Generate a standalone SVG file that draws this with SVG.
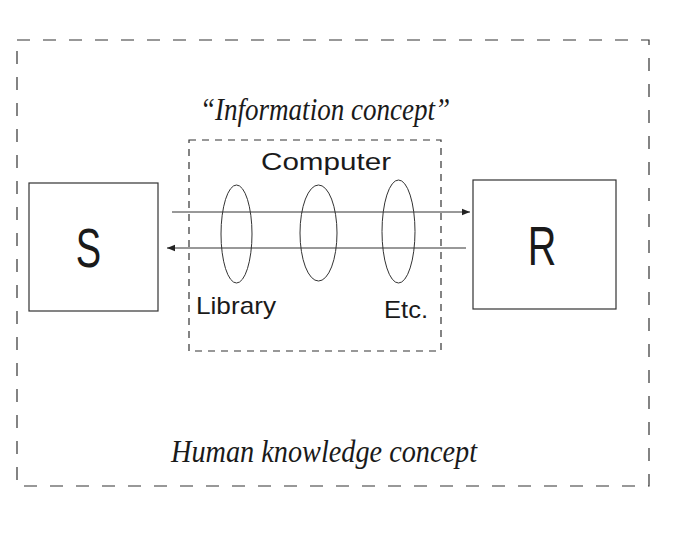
<svg xmlns="http://www.w3.org/2000/svg" width="693" height="550" viewBox="0 0 693 550">
<style>
.dash{fill:none;stroke:#333;stroke-width:1.2;stroke-dasharray:13 13}
.box{fill:#fff;stroke:#333;stroke-width:1.2}
.ell{fill:none;stroke:#333;stroke-width:1}
.line{stroke:#333;stroke-width:1;fill:none}
.sans{font-family:"Liberation Sans",Arial,sans-serif;fill:#1a1a1a}
.script{font-family:"Liberation Serif","Times New Roman",serif;font-style:italic;fill:#1a1a1a}
</style>
<defs>
<marker id="ah" viewBox="0 0 10 10" refX="10" refY="5" markerWidth="11" markerHeight="8" markerUnits="userSpaceOnUse" orient="auto">
<path d="M0,1 L10,5 L0,9 z" fill="#222"/>
</marker>
</defs>
<rect width="693" height="550" fill="#fff"/>
<g id="human-knowledge">
<rect class="dash" x="17" y="40" width="632" height="446"/>
<text class="script" x="324" y="462" font-size="31" text-anchor="middle" textLength="306" lengthAdjust="spacingAndGlyphs">Human knowledge concept</text>
</g>
<g id="information-concept">
<rect class="dash" x="189" y="140" width="252" height="211" style="stroke-dasharray:7 6"/>
<text class="script" x="325" y="120" font-size="31" text-anchor="middle" textLength="250" lengthAdjust="spacingAndGlyphs">“Information concept”</text>
<text class="sans" x="326" y="170" font-size="24" text-anchor="middle" textLength="130" lengthAdjust="spacingAndGlyphs">Computer</text>
<text class="sans" x="196" y="314" font-size="24" textLength="80" lengthAdjust="spacingAndGlyphs">Library</text>
<text class="sans" x="384" y="318" font-size="24" textLength="44" lengthAdjust="spacingAndGlyphs">Etc.</text>
</g>
<g id="S">
<rect class="box" x="29" y="183" width="129" height="128"/>
<text class="sans" font-size="56" text-anchor="middle" transform="translate(88.5,267) scale(0.68,1)">S</text>
</g>
<g id="R">
<rect class="box" x="473" y="180" width="143" height="129"/>
<text class="sans" font-size="55" text-anchor="middle" transform="translate(542,265) scale(0.72,1)">R</text>
</g>
<g id="connectors">
<line class="line" x1="172" y1="212" x2="470" y2="212" marker-end="url(#ah)"/>
<line class="line" x1="466" y1="248" x2="167" y2="248" marker-end="url(#ah)"/>
<ellipse class="ell" cx="236.5" cy="234" rx="15.5" ry="49"/>
<ellipse class="ell" cx="318.5" cy="233" rx="18.5" ry="48"/>
<ellipse class="ell" cx="398.5" cy="231.5" rx="16.5" ry="51.5"/>
</g>
</svg>
